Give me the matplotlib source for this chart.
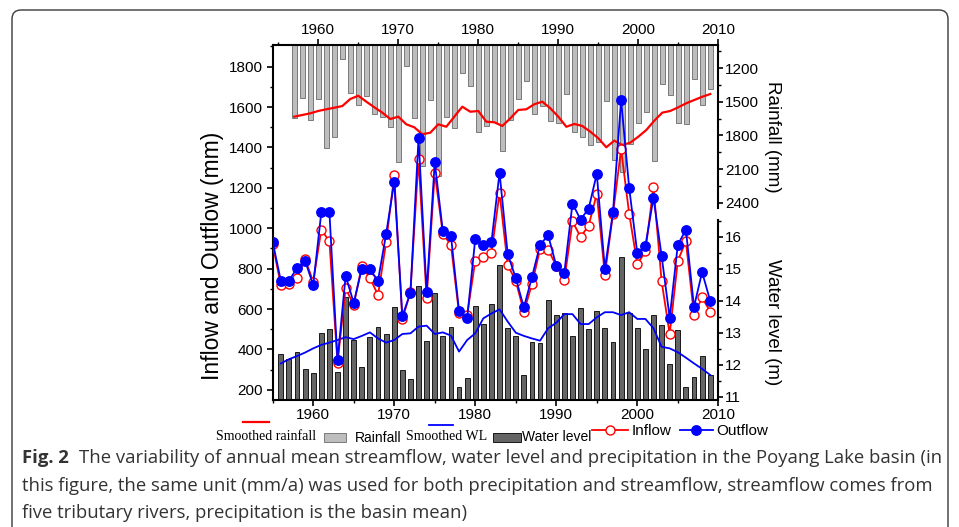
import matplotlib
matplotlib.use("Agg")
import matplotlib.pyplot as plt
from matplotlib.patches import FancyBboxPatch, Rectangle
from matplotlib.lines import Line2D
from matplotlib.ticker import MultipleLocator, FixedLocator

# ---------------- data ----------------
flow_years = list(range(1955, 2010))
inflow = [920, 719, 723, 756, 847, 736, 993, 935, 333, 703,
          620, 814, 753, 670, 930, 1262, 549, 685, 1341, 653,
          1275, 972, 918, 579, 570, 839, 860, 879, 1175, 819,
          739, 587, 723, 897, 894, 814, 744, 1034, 957, 1013,
          1171, 769, 1071, 1391, 1072, 822, 885, 1205, 739, 476,
          839, 935, 570, 658, 587]
outflow = [932, 741, 741, 802, 839, 719, 1079, 1079, 346, 764,
           631, 800, 796, 741, 972, 1230, 565, 680, 1446, 685,
           1327, 985, 963, 590, 554, 947, 918, 933, 1275, 874,
           753, 608, 758, 918, 965, 815, 781, 1122, 1043, 1097,
           1270, 799, 1079, 1635, 1200, 877, 913, 1151, 864, 557,
           918, 993, 611, 783, 641]

wl_years = list(range(1956, 2010))
water_level = [12.33, 12.18, 12.39, 11.86, 11.73, 13.00, 13.11, 11.78, 14.13, 12.77,
               11.94, 12.88, 13.17, 12.95, 13.81, 11.83, 11.54, 14.47, 12.74, 14.25,
               12.90, 13.17, 11.31, 11.59, 13.83, 13.27, 13.89, 15.10, 13.16, 12.90,
               11.68, 12.72, 12.67, 14.02, 13.55, 13.60, 12.91, 13.76, 13.11, 13.69,
               13.14, 12.70, 15.38, 13.63, 13.16, 12.48, 13.55, 13.24, 12.02, 13.08,
               11.31, 11.63, 12.27, 11.68]
smoothed_wl = [12.04, 12.17, 12.27, 12.38, 12.51, 12.62, 12.69, 12.77, 12.86, 12.80,
               12.90, 13.01, 12.82, 12.69, 12.77, 12.96, 12.98, 13.19, 13.22, 12.96,
               13.01, 12.91, 12.41, 12.77, 12.98, 13.45, 13.60, 13.73, 13.35, 13.00,
               12.90, 12.82, 12.75, 13.14, 13.31, 13.58, 13.58, 13.27, 13.27, 13.48,
               13.64, 13.64, 13.55, 13.64, 13.43, 13.43, 13.14, 12.56, 12.51, 12.39,
               12.22, 12.04, 11.87, 11.68]

rain_years = list(range(1957, 2010))
rainfall = [1647, 1468, 1662, 1477, 1909, 1811, 1117, 1423, 1528, 1447,
            1608, 1632, 1727, 2034, 1179, 1647, 2072, 1483, 2162, 1638,
            1736, 1239, 1358, 1766, 1715, 1677, 1939, 1662, 1477, 1311,
            1611, 1537, 1671, 1691, 1430, 1772, 1811, 1885, 1855, 1489,
            2019, 2123, 1876, 1686, 1588, 2028, 1343, 1438, 1691, 1700,
            1298, 1528, 1385]
smoothed_rain = [1632, 1617, 1602, 1581, 1566, 1552, 1537, 1474, 1445, 1498,
                 1548, 1596, 1653, 1632, 1700, 1727, 1789, 1775, 1700, 1722,
                 1632, 1543, 1588, 1581, 1677, 1682, 1715, 1647, 1572, 1566,
                 1521, 1498, 1557, 1632, 1722, 1697, 1715, 1766, 1825, 1905,
                 1846, 1885, 1864, 1811, 1751, 1668, 1596, 1581, 1548, 1512,
                 1483, 1454, 1430]

year_ticks = [1960, 1970, 1980, 1990, 2000, 2010]
flow_ticks = [200, 400, 600, 800, 1000, 1200, 1400, 1600, 1800]
rain_ticks = [1200, 1500, 1800, 2100, 2400]
wl_ticks = [11, 12, 13, 14, 15, 16]

caption_bold = "Fig. 2"
caption_lines = [
    "The variability of annual mean streamflow, water level and precipitation in the Poyang Lake basin (in",
    "this figure, the same unit (mm/a) was used for both precipitation and streamflow, streamflow comes from",
    "five tributary rivers, precipitation is the basin mean)",
]

# ---------------- layout ----------------
W, H = 959, 527
fig = plt.figure(figsize=(W / 100, H / 100), dpi=100)
plt.rcParams['font.family'] = ['Liberation Sans', 'DejaVu Sans']

# overlay axes in pixel coordinates
ov = fig.add_axes([0, 0, 1, 1], zorder=0)
ov.set_xlim(0, W)
ov.set_ylim(H, 0)
ov.axis('off')

L, R, T, B = 272.7, 718.3, 45.0, 400.0
pos = [L / W, 1 - B / H, (R - L) / W, (B - T) / H]

RED = '#ff0000'
BLUE = '#0000ff'
LIGHT = '#bdbdbd'
DARK = '#656565'
SPW = 1.5
TICKFS = 11

axr = fig.add_axes(pos, zorder=1)
axw = fig.add_axes(pos, zorder=2)
ax = fig.add_axes(pos, zorder=3)
for a in (axr, axw, ax):
    a.patch.set_visible(False)

# ---- rainfall (top panel, inverted) ----
r_top, r_bot = 992, 4162
axr.set_xlim(1954.3, 2010)
axr.set_ylim(r_bot, r_top)
axr.bar(rain_years, [v - r_top for v in rainfall], bottom=r_top, width=0.6,
        color=LIGHT, edgecolor='#6a6a6a', linewidth=0.6, zorder=2)
axr.plot(rain_years, smoothed_rain, color=RED, lw=1.6, zorder=3)
for s in ('left', 'bottom'):
    axr.spines[s].set_visible(False)
axr.spines['top'].set_linewidth(SPW)
axr.spines['right'].set_linewidth(SPW)
axr.spines['right'].set_bounds(r_top, 2447)
axr.xaxis.tick_top()
axr.yaxis.tick_right()
axr.set_xticks(year_ticks)
axr.xaxis.set_minor_locator(MultipleLocator(5))
axr.yaxis.set_major_locator(FixedLocator(rain_ticks))
axr.yaxis.set_minor_locator(FixedLocator([1050, 1350, 1650, 1950, 2250]))
axr.tick_params(axis='x', which='major', direction='out', length=4, width=1.2,
                labelsize=TICKFS, pad=2)
axr.tick_params(axis='x', which='minor', direction='out', length=2.5, width=1.0)
axr.tick_params(axis='y', which='major', direction='out', length=3.5, width=1.2,
                labelsize=TICKFS, pad=1.5)
axr.tick_params(axis='y', which='minor', direction='out', length=2, width=1.0)

# ---- water level (bottom panel, right axis) ----
w_bot, w_top = 10.897, 21.99
axw.set_xlim(1955, 2010)
axw.set_ylim(w_bot, w_top)
axw.bar(wl_years, [v - w_bot for v in water_level], bottom=w_bot, width=0.6,
        color=DARK, edgecolor='black', linewidth=0.6, zorder=2)
axw.plot(wl_years, smoothed_wl, color=BLUE, lw=1.3, zorder=3)
for s in ('left', 'bottom', 'top'):
    axw.spines[s].set_visible(False)
axw.spines['right'].set_linewidth(SPW)
axw.spines['right'].set_bounds(w_bot, 16.52)
axw.yaxis.tick_right()
axw.set_xticks([])
axw.yaxis.set_major_locator(FixedLocator(wl_ticks))
axw.yaxis.set_minor_locator(FixedLocator([11.5, 12.5, 13.5, 14.5, 15.5, 16.5]))
axw.tick_params(axis='y', which='major', direction='out', length=3.5, width=1.2,
                labelsize=TICKFS, pad=1.5)
axw.tick_params(axis='y', which='minor', direction='out', length=2, width=1.0)

# ---- inflow / outflow (main left axis) ----
ax.set_xlim(1955, 2010)
ax.set_ylim(150, 1907)
ax.plot(flow_years, inflow, color=RED, lw=1.3, marker='o', ms=6.5,
        mfc='white', mec=RED, mew=1.0, zorder=3)
ax.plot(flow_years, outflow, color=BLUE, lw=1.3, marker='o', ms=6.8,
        mfc=BLUE, mec=BLUE, zorder=4)
for s in ('top', 'right'):
    ax.spines[s].set_visible(False)
ax.spines['left'].set_linewidth(SPW)
ax.spines['bottom'].set_linewidth(SPW)
ax.set_xticks(year_ticks)
ax.xaxis.set_minor_locator(MultipleLocator(5))
ax.set_yticks(flow_ticks)
ax.yaxis.set_minor_locator(MultipleLocator(100))
ax.tick_params(axis='both', which='major', direction='out', length=4, width=1.2,
               labelsize=TICKFS)
ax.tick_params(axis='both', which='minor', direction='out', length=2.5, width=1.0)
ax.tick_params(axis='x', which='major', pad=1.5)
ax.tick_params(axis='y', which='major', pad=3)

# ---- axis titles ----
ov.text(213, 256, "Inflow and Outflow (mm)", rotation=90, ha='center', va='center',
        fontsize=16.5)
ov.text(772, 137, "Rainfall (mm)", rotation=270, ha='center', va='center', fontsize=13.5)
ov.text(772, 322, "Water level (m)", rotation=270, ha='center', va='center', fontsize=13.5)

# ---- legend (manual, below axes) ----
SERIF = ['Liberation Serif', 'DejaVu Serif']
ov.add_line(Line2D([243, 269], [422, 422], color=RED, lw=1.6))
ov.text(216, 437, "Smoothed rainfall", family=SERIF, fontsize=10, va='center', ha='left')
ov.add_patch(Rectangle((324, 432.5), 22, 9, fc=LIGHT, ec='#6a6a6a', lw=0.6))
ov.text(355, 438, "Rainfall", fontsize=10, va='center', ha='left')
ov.add_line(Line2D([429, 453], [425, 425], color=BLUE, lw=1.3))
ov.text(406.5, 437, "Smoothed WL", family=SERIF, fontsize=10, va='center', ha='left')
ov.add_patch(Rectangle((492.5, 432.5), 28, 9, fc=DARK, ec='black', lw=0.6))
ov.text(522.5, 437, "Water level", fontsize=10, va='center', ha='left')
ov.add_line(Line2D([592, 628], [429.5, 429.5], color=RED, lw=1.3))
ov.plot([610], [429.5], marker='o', ms=6.5, mfc='white', mec=RED, mew=1.0)
ov.text(632, 431, "Inflow", fontsize=11, va='center', ha='left')
ov.add_line(Line2D([679.5, 712.7], [429.5, 429.5], color=BLUE, lw=1.3))
ov.plot([696], [429.5], marker='o', ms=6.8, mfc=BLUE, mec=BLUE)
ov.text(716.5, 431, "Outflow", fontsize=11, va='center', ha='left')

# ---- frame box ----
ov.add_patch(FancyBboxPatch((12, 10), 936, 560,
                            boxstyle="round,pad=0,rounding_size=9",
                            fc='none', ec='#3a3a3a', lw=1.0))

# ---- caption ----
CAP = ['Open Sans', 'DejaVu Sans']
CAPFS = 13.3
CAPCOL = '#333333'
t0 = ov.text(22, 458, caption_bold, family=CAP, fontsize=CAPFS, fontweight='bold',
             color=CAPCOL, va='center', ha='left')
fig.canvas.draw()
bb = t0.get_window_extent()
x_after = bb.x1 + 10
ov.text(x_after, 458, caption_lines[0], family=CAP, fontsize=CAPFS, color=CAPCOL,
        va='center', ha='left')
ov.text(22, 486, caption_lines[1], family=CAP, fontsize=CAPFS, color=CAPCOL,
        va='center', ha='left')
ov.text(22, 513, caption_lines[2], family=CAP, fontsize=CAPFS, color=CAPCOL,
        va='center', ha='left')

fig.savefig("out.png", dpi=100)
